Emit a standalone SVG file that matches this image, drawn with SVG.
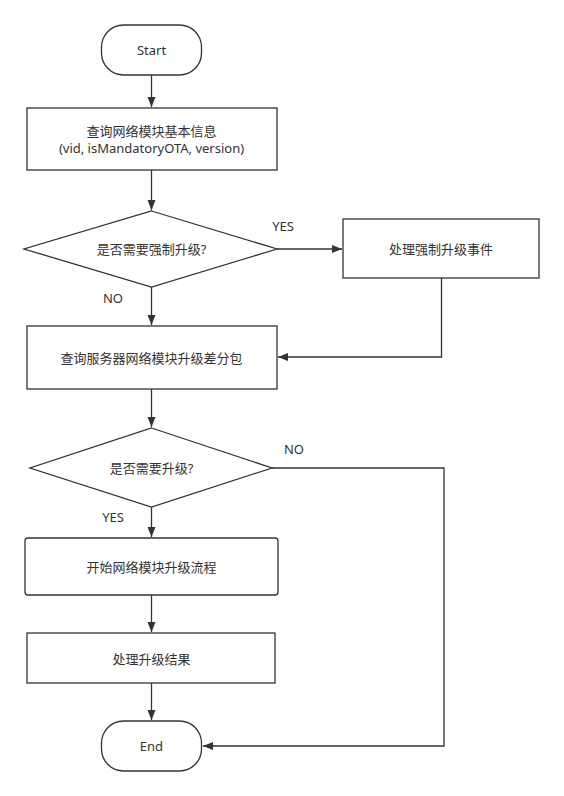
<svg xmlns="http://www.w3.org/2000/svg" width="564" height="796" viewBox="0 0 564 796">
<style>
.shape{fill:#ffffff;stroke:#333333;stroke-width:1.3}
.conn{fill:none;stroke:#333333;stroke-width:1.3}
text{font-family:"Noto Sans","Noto Sans CJK SC",sans-serif;font-size:13px;fill:#333333;text-anchor:middle;dominant-baseline:central}
</style>
<defs>
<marker id="arr" markerUnits="userSpaceOnUse" markerWidth="11" markerHeight="9" refX="10" refY="4" orient="auto">
<path d="M0,0 L10,4 L0,8 z" fill="#333333"/>
</marker>
</defs>
<rect width="564" height="796" fill="#ffffff"/>
<g id="connectors">
<line class="conn" x1="151.5" y1="75" x2="151.5" y2="107" marker-end="url(#arr)"/>
<line class="conn" x1="151.5" y1="170" x2="151.5" y2="210" marker-end="url(#arr)"/>
<line class="conn" x1="277" y1="249" x2="342" y2="249" marker-end="url(#arr)"/>
<line class="conn" x1="151.5" y1="287" x2="151.5" y2="325" marker-end="url(#arr)"/>
<polyline class="conn" points="441.5,278 441.5,357 278,357" marker-end="url(#arr)"/>
<line class="conn" x1="151.5" y1="389" x2="151.5" y2="427" marker-end="url(#arr)"/>
<polyline class="conn" points="272,468 444,468 444,746 203,746" marker-end="url(#arr)"/>
<line class="conn" x1="151.5" y1="507" x2="151.5" y2="537" marker-end="url(#arr)"/>
<line class="conn" x1="151.5" y1="595" x2="151.5" y2="632" marker-end="url(#arr)"/>
<line class="conn" x1="151.5" y1="683" x2="151.5" y2="720" marker-end="url(#arr)"/>
<text x="283" y="226">YES</text>
<text x="113" y="298">NO</text>
<text x="294" y="449">NO</text>
<text x="113" y="517">YES</text>
</g>
<g id="start">
<rect class="shape" x="101.5" y="25" width="100" height="50" rx="22" ry="22"/>
<text x="151.5" y="50">Start</text>
</g>
<g id="query-info">
<rect class="shape" x="27" y="108" width="250" height="62"/>
<text x="151.5" y="131">查询网络模块基本信息</text>
<text x="151.5" y="148">(vid, isMandatoryOTA, version)</text>
</g>
<g id="need-force">
<polygon class="shape" points="151.5,211 277,249 151.5,287 24,249"/>
<text x="151.5" y="249">是否需要强制升级?</text>
</g>
<g id="force-handle">
<rect class="shape" x="343" y="219" width="196" height="59"/>
<text x="441" y="248.5">处理强制升级事件</text>
</g>
<g id="query-server">
<rect class="shape" x="27" y="326" width="250" height="63"/>
<text x="151.5" y="357.5">查询服务器网络模块升级差分包</text>
</g>
<g id="need-upgrade">
<polygon class="shape" points="151.5,428 272,468 151.5,507 30,468"/>
<text x="151.5" y="468">是否需要升级?</text>
</g>
<g id="start-upgrade">
<rect class="shape" x="25" y="538" width="253" height="57" rx="3" ry="3"/>
<text x="151.5" y="567">开始网络模块升级流程</text>
</g>
<g id="handle-result">
<rect class="shape" x="27" y="633" width="248" height="50"/>
<text x="151.5" y="659">处理升级结果</text>
</g>
<g id="end">
<rect class="shape" x="101.5" y="721" width="100" height="50" rx="22" ry="22"/>
<text x="151.5" y="746">End</text>
</g>
</svg>
